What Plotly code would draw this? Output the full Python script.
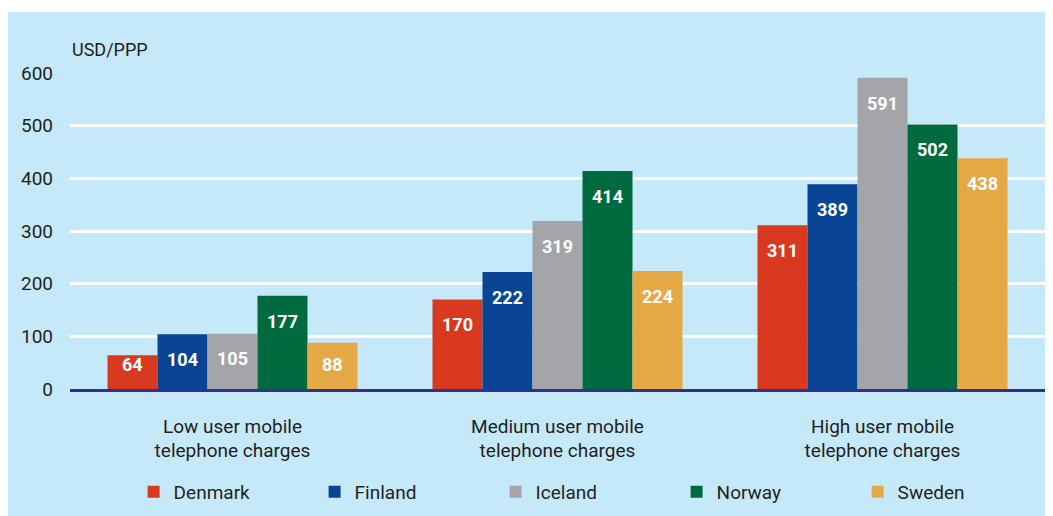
import plotly.graph_objects as go

categories = ["Low user mobile<br>telephone charges",
              "Medium user mobile<br>telephone charges",
              "High user mobile<br>telephone charges"]
countries = ["Denmark", "Finland", "Iceland", "Norway", "Sweden"]
denmark = [64, 170, 311]
finland = [104, 222, 389]
iceland = [105, 319, 591]
norway = [177, 414, 502]
sweden = [88, 224, 438]
y_ticks = [0, 100, 200, 300, 400, 500, 600]

series = [denmark, finland, iceland, norway, sweden]
colors = ["#d9391f", "#0a4595", "#a3a5a8", "#006a3f", "#e4a845"]

FONT = "Roboto"
TXT = "#231f20"

# page body has an 8px default margin; layout compensates for it
L, R, T, B = 62, 16, 65, 135
W, H = 1053, 516
PW, PH = W - L - R, H - T - B

fig = go.Figure()
for name, vals, col in zip(countries, series, colors):
    fig.add_trace(go.Bar(
        name=name, x=categories, y=vals, marker=dict(color=col, line=dict(width=0)),
        hoverinfo="y+name",
    ))

bargap = 75 / 325
nser = len(series)
bar_w = (1 - bargap) / nser
annotations = []
for j, vals in enumerate(series):
    for i, v in enumerate(vals):
        xpos = i + (j - (nser - 1) / 2) * bar_w
        annotations.append(dict(
            x=xpos, y=max(v - 48, 47), xref="x", yref="y", text=str(v),
            showarrow=False, font=dict(family=FONT, size=18, color="white", weight="bold"),
        ))

annotations.append(dict(
    x=0, y=1, xref="paper", yref="paper", xanchor="left", yanchor="bottom",
    yshift=11, text="USD/PPP", showarrow=False,
    font=dict(family=FONT, size=18, color=TXT),
))

fig.update_layout(
    width=W, height=H,
    margin=dict(l=L, r=R, t=T, b=B, autoexpand=False),
    paper_bgcolor="white",
    plot_bgcolor="#6ccff5",
    barmode="group", bargap=bargap, bargroupgap=0,
    font=dict(family=FONT, size=19, color=TXT),
    shapes=[dict(type="rect", xref="paper", yref="paper", layer="below",
                 x0=-L / PW, x1=(W - L) / PW, y0=-B / PH, y1=1 + (T - 4) / PH,
                 fillcolor="#c6e9f9", line=dict(width=0))],
    xaxis=dict(
        showgrid=False, showline=True, linecolor="#2e3192", linewidth=2.5,
        ticks="", ticklabelstandoff=18, automargin=False,
        tickfont=dict(family=FONT, size=19, color=TXT),
    ),
    yaxis=dict(
        range=[0, 600], tickvals=y_ticks, showgrid=True, gridcolor="white", gridwidth=2.5,
        zeroline=False, ticks="", ticklabelstandoff=16, automargin=False,
        tickfont=dict(family=FONT, size=19, color=TXT),
    ),
    legend=dict(
        orientation="h", x=(125.6 - L) / PW, xanchor="left", y=-103 / PH, yanchor="middle",
        entrywidth=136, entrywidthmode="pixels", bgcolor="rgba(0,0,0,0)",
        font=dict(family=FONT, size=19, color=TXT), traceorder="normal",
    ),
    annotations=annotations,
    showlegend=True,
)

fig.write_html("out.html")
